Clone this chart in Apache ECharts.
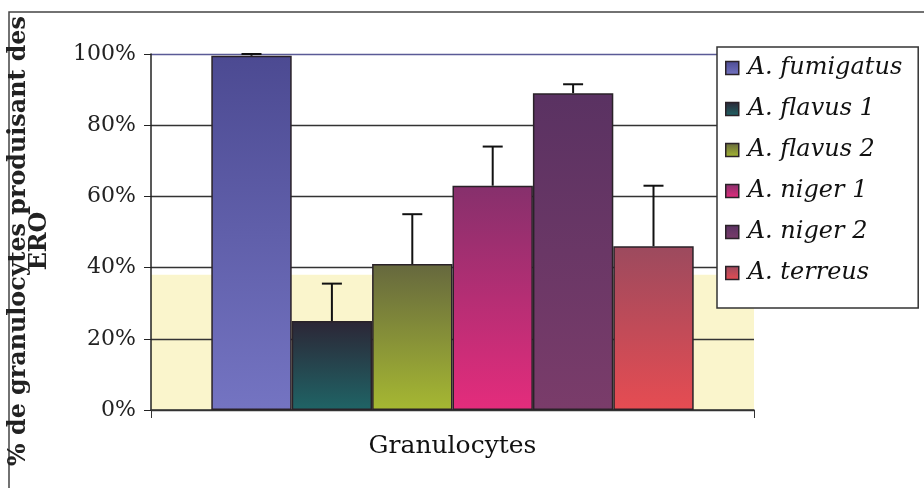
<!DOCTYPE html>
<html><head><meta charset="utf-8">
<script src="https://cdn.jsdelivr.net/npm/echarts@6/dist/echarts.min.js"></script>
<style>html,body{margin:0;padding:0;background:#fff}#c{width:924px;height:488px}</style>
</head><body><div id="c"></div>
<script>
const categories = ['Granulocytes'];
const seriesNames = ['A. fumigatus', 'A. flavus 1', 'A. flavus 2', 'A. niger 1', 'A. niger 2', 'A. terreus'];
const means = [99.5, 25, 41, 63, 89, 46];
const errors = [0.5, 10.5, 14, 11, 2.5, 17];
const yTicks = [0, 20, 40, 60, 80, 100];

const grads = [
  ['#4c4a92', '#7474c2'],
  ['#2c2636', '#1f6466'],
  ['#66683e', '#a6b832'],
  ['#86306c', '#e42c7c'],
  ['#5a3262', '#7a3c6a'],
  ['#9c4a5e', '#e64c52']
];
function grad(i){
  return new echarts.graphic.LinearGradient(0,0,0,1,[{offset:0,color:grads[i][0]},{offset:1,color:grads[i][1]}]);
}
const n = seriesNames.length;
const FONT = 'DejaVu Serif';
const chart = echarts.init(document.getElementById('c'));
const series = seriesNames.map((name,i)=>({
  name, type:'bar', data:[means[i]],
  barGap:'0%', barCategoryGap:'20%',
  itemStyle:{color:grad(i), borderColor:'#2a2228', borderWidth:1.5},
  z:3
}));
series.push({
  type:'line', name:'bg', data:[], z:-1, silent:true,
  markArea:{silent:true, z:-5, itemStyle:{color:'rgba(246,238,170,0.6)'}, data:[[{yAxis:0},{yAxis:38}]]}
});
series.push({
  type:'custom', name:'err', z:5,
  data: means.map((m,i)=>[0, m, m+errors[i], i]),
  encode:{x:0,y:2},
  renderItem(params, api){
    const i = api.value(3);
    const base = api.coord([api.value(0), api.value(1)]);
    const top = api.coord([api.value(0), api.value(2)]);
    const band = api.size([1,0])[0];
    const bw = band*0.8/n;
    const x = base[0] - band*0.4 + bw*(i+0.5);
    const cap = 10;
    const st = {stroke:'#111', lineWidth:2};
    return {type:'group', children:[
      {type:'line', shape:{x1:x,y1:base[1],x2:x,y2:top[1]}, style:st},
      {type:'line', shape:{x1:x-cap,y1:top[1],x2:x+cap,y2:top[1]}, style:st}
    ]};
  }
});
chart.setOption({
  animation:false,
  backgroundColor:'#fff',
  textStyle:{fontFamily:FONT},
  grid:{left:151, right:170, top:54, bottom:78, outerBoundsMode:'none', containLabel:false},
  legend:{
    data:seriesNames, orient:'vertical', left:717, top:47,
    padding:[9,16,23,8], itemGap:17,
    icon:'path://M0,0h10v10h-10z',
    itemWidth:21, itemHeight:13,
    backgroundColor:'#fff', borderColor:'#333', borderWidth:1.5,
    textStyle:{fontFamily:FONT, fontStyle:'italic', fontSize:24, lineHeight:24, color:'#111'},
    itemStyle:{borderColor:'#2a2228', borderWidth:1.5}
  },
  xAxis:{
    type:'category', data:categories,
    axisLine:{lineStyle:{color:'#333', width:1.5}},
    axisTick:{show:true, length:8, lineStyle:{color:'#333'}},
    axisLabel:{fontSize:25, color:'#111', margin:24, fontFamily:FONT}
  },
  yAxis:{
    type:'value', min:0, max:100, interval:20,
    name:'% de granulocytes produisant des\nERO',
    nameLocation:'middle', nameGap:101, nameRotate:90,
    nameTextStyle:{fontSize:23.8, fontWeight:'bold', color:'#222', lineHeight:21, fontFamily:FONT, padding:[0,18,0,0]},
    axisLine:{show:true, lineStyle:{color:'#222', width:1.5}},
    axisTick:{show:true, length:7, lineStyle:{color:'#222'}},
    axisLabel:{fontSize:22, color:'#222', margin:15, fontFamily:FONT, formatter:v=>yTicks.includes(v)? v+'%':''},
    splitLine:{lineStyle:{color:['#333','#333','#333','#333','#333','#5a5a96'], width:1.3}}
  },
  graphic:[{type:'rect', shape:{x:9,y:12,width:930,height:490}, style:{fill:null, stroke:'#444', lineWidth:1.5}, z:-1}],
  series
});
</script></body></html>
